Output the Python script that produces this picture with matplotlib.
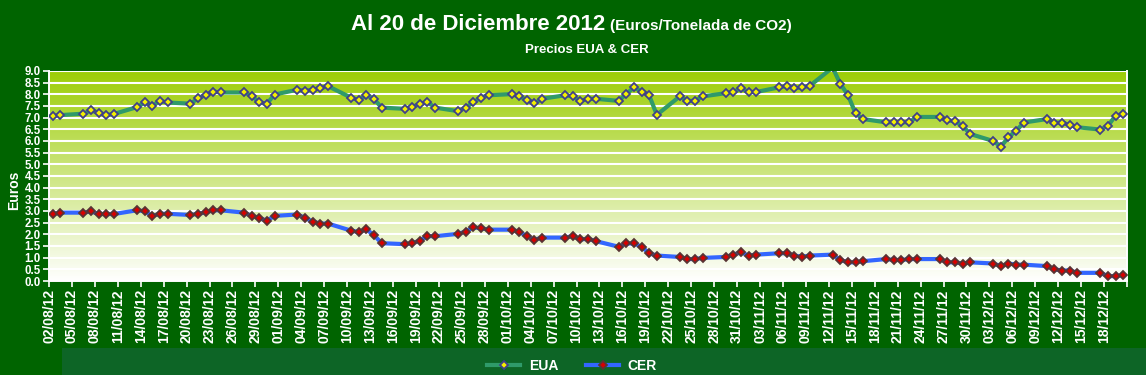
import matplotlib
matplotlib.use('Agg')
import matplotlib.pyplot as plt
import numpy as np
import pandas as pd
from matplotlib.lines import Line2D
from matplotlib.patches import Rectangle
from matplotlib.colors import LinearSegmentedColormap

# colours
BG = '#006400'
BAND = '#0d6526'
EUA_LINE = '#2f9a6a'
CER_LINE = '#3366ff'

FONT = ['Liberation Sans', 'DejaVu Sans']

# trading days (dd/mm, 2012), as plotted in the reference
dates = [
    '02/08', '03/08',
    '06/08', '07/08', '08/08', '09/08', '10/08',
    '13/08', '14/08', '15/08', '16/08', '17/08',
    '20/08', '21/08', '22/08', '23/08', '24/08',
    '27/08', '28/08', '29/08', '30/08', '31/08',
    '03/09', '04/09', '05/09', '06/09', '07/09',
    '10/09', '11/09', '12/09', '13/09', '14/09',
    '17/09', '18/09', '19/09', '20/09', '21/09',
    '24/09', '25/09', '26/09', '27/09', '28/09',
    '01/10', '02/10', '03/10', '04/10', '05/10',
    '08/10', '09/10', '10/10', '11/10', '12/10',
    '15/10', '16/10', '17/10', '18/10', '19/10', '20/10',
    '23/10', '24/10', '25/10', '26/10',
    '29/10', '30/10', '31/10', '01/11', '02/11',
    '05/11', '06/11', '07/11', '08/11', '09/11',
    '12/11', '13/11', '14/11', '15/11', '16/11',
    '19/11', '20/11', '21/11', '22/11', '23/11',
    '26/11', '27/11', '28/11', '29/11', '30/11',
    '03/12', '04/12', '05/12', '06/12', '07/12',
    '10/12', '11/12', '12/12', '13/12', '14/12',
    '17/12', '18/12', '19/12', '20/12',
]

eua = [
    7.07, 7.11,
    7.17, 7.31, 7.21, 7.11, 7.16,
    7.45, 7.65, 7.51, 7.71, 7.65,
    7.60, 7.83, 7.98, 8.12, 8.08,
    8.08, 7.94, 7.65, 7.60, 7.99,
    8.20, 8.15, 8.20, 8.26, 8.35,
    7.86, 7.76, 7.96, 7.81, 7.43,
    7.38, 7.47, 7.57, 7.67, 7.43,
    7.28, 7.43, 7.66, 7.86, 7.96,
    8.01, 7.91, 7.77, 7.62, 7.81,
    7.96, 7.91, 7.72, 7.81, 7.81,
    7.72, 8.01, 8.30, 8.12, 7.96, 7.12,
    7.91, 7.72, 7.72, 7.91,
    8.05, 8.10, 8.26, 8.10, 8.10,
    8.30, 8.35, 8.26, 8.30, 8.36,
    9.15, 8.45, 7.97, 7.18, 6.94,
    6.80, 6.80, 6.80, 6.80, 7.03,
    7.03, 6.89, 6.84, 6.64, 6.30,
    6.00, 5.76, 6.16, 6.44, 6.79,
    6.94, 6.79, 6.79, 6.69, 6.59,
    6.49, 6.64, 7.09, 7.15,
]

cer = [
    2.87, 2.93,
    2.93, 2.98, 2.87, 2.87, 2.87,
    3.03, 2.99, 2.79, 2.88, 2.88,
    2.83, 2.88, 2.94, 3.03, 3.03,
    2.93, 2.79, 2.69, 2.59, 2.79,
    2.85, 2.70, 2.55, 2.46, 2.46,
    2.16, 2.10, 2.21, 1.97, 1.62,
    1.58, 1.62, 1.73, 1.92, 1.92,
    2.02, 2.12, 2.30, 2.26, 2.20,
    2.20, 2.11, 1.92, 1.77, 1.86,
    1.86, 1.92, 1.78, 1.81, 1.71,
    1.47, 1.61, 1.61, 1.47, 1.19, 1.09,
    1.03, 0.94, 0.94, 0.99,
    1.03, 1.13, 1.23, 1.09, 1.13,
    1.19, 1.19, 1.09, 1.04, 1.09,
    1.13, 0.90, 0.80, 0.80, 0.85,
    0.94, 0.90, 0.90, 0.94, 0.94,
    0.94, 0.80, 0.80, 0.75, 0.80,
    0.75, 0.64, 0.75, 0.70, 0.70,
    0.64, 0.50, 0.45, 0.45, 0.35,
    0.35, 0.21, 0.21, 0.25,
]

x = pd.to_datetime([d + '/2012' for d in dates], format='%d/%m/%Y') + pd.Timedelta(hours=12)
x_start = pd.Timestamp('2012-08-02')
x_end = pd.Timestamp('2012-12-21')
xticks = pd.date_range(x_start, x_end, freq='3D')
xlabels = [t.strftime('%d/%m/%y') for t in xticks]
xlabels[-1] = ''

EUA_STYLE = dict(color=EUA_LINE, lw=3, marker='D', ms=4.3, mfc='#f5f000',
                 mec='#404088', mew=1.3)
CER_STYLE = dict(color=CER_LINE, lw=3, marker='D', ms=4.3, mfc='#d80000',
                 mec='#583434', mew=1.3)


def main():
    fig = plt.figure(figsize=(11.46, 3.75), dpi=100, facecolor=BG)

    # lighter band behind the legend
    fig.patches.append(Rectangle((62 / 1146, 0), 1 - 62 / 1146, 27 / 375,
                                 transform=fig.transFigure, facecolor=BAND,
                                 edgecolor='none', zorder=0))

    ax = fig.add_axes([49 / 1146, 1 - 281 / 375, (1127 - 49) / 1146, 210 / 375])
    ax.set_ylim(0, 9)

    # gradient background of the plot area
    cmap = LinearSegmentedColormap.from_list('bg', ['#ffffff', '#9ccd05'])
    grad = np.linspace(0, 1, 256).reshape(-1, 1)
    ax.imshow(grad, cmap=cmap, origin='lower', aspect='auto', zorder=0,
              extent=[x_start, x_end, 0, 9])
    ax.set_xlim(x_start, x_end)

    yt = np.arange(0, 9.01, 0.5)
    ax.set_yticks(yt)
    ax.set_yticklabels([f'{v:.1f}' for v in yt], family=FONT, weight='bold',
                       fontsize=8.3, color='white')
    ax.grid(axis='y', color='white', lw=1.5, zorder=1)
    ax.set_axisbelow(True)

    ax.plot(x, eua, zorder=3, **EUA_STYLE)
    ax.plot(x, cer, zorder=3, **CER_STYLE)

    ax.set_xticks(xticks)
    ax.set_xticklabels(xlabels, rotation=90, family=FONT, weight='bold',
                       fontsize=10, color='white')
    ax.tick_params(axis='both', colors='white', length=4, width=1.2, pad=2)

    ax.spines['top'].set_visible(False)
    for side in ['left', 'bottom', 'right']:
        ax.spines[side].set_color('white')
        ax.spines[side].set_linewidth(1.4)

    fig.text(14 / 1146, 1 - 190 / 375, 'Euros', rotation=90, ha='center',
             va='center', color='white', family=FONT, weight='bold', fontsize=10)

    # titles
    fig.text(605 / 1146, 1 - 25 / 375, 'Al 20 de Diciembre 2012', ha='right',
             va='center', color='white', family=FONT, weight='bold', fontsize=16)
    fig.text(610 / 1146, 1 - 26 / 375, '(Euros/Tonelada de CO2)', ha='left',
             va='center', color='white', family=FONT, weight='bold', fontsize=11)
    fig.text(587 / 1146, 1 - 50 / 375, 'Precios EUA & CER', ha='center',
             va='center', color='white', family=FONT, weight='bold', fontsize=9.5)

    handles = [Line2D([], [], **EUA_STYLE), Line2D([], [], **CER_STYLE)]
    fig.legend(handles, ['EUA', 'CER'], loc='center',
               bbox_to_anchor=(572 / 1146, 1 - 366 / 375), ncol=2, frameon=False,
               labelcolor='white', handlelength=2.4, handletextpad=0.6,
               columnspacing=2.0,
               prop={'family': FONT, 'weight': 'bold', 'size': 10})

    fig.savefig('out.png', dpi=100, facecolor=BG)


if __name__ == '__main__':
    main()
